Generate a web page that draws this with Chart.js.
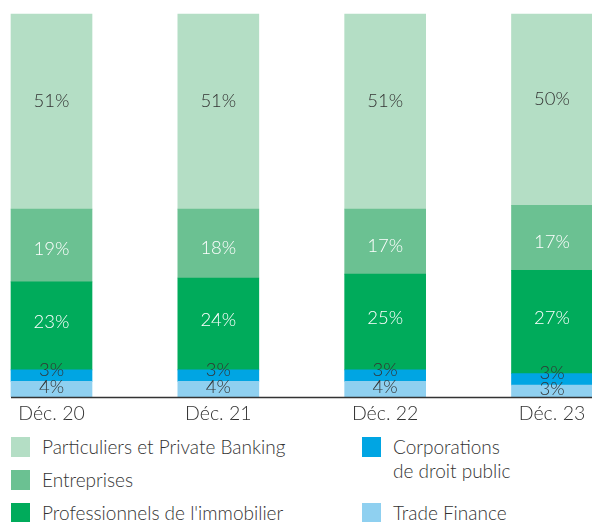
<!DOCTYPE html>
<html>
<head>
<meta charset="utf-8">
<script src="https://cdn.jsdelivr.net/npm/chart.js@4"></script>
<style>
  body { margin: 0; background: #fff; }
  #wrap { position: relative; width: 592px; height: 522px; overflow: hidden; font-family: Lato, sans-serif; font-weight: 300; color: #333; }
  #chart { position: absolute; left: 0; top: 0; }
  .leg { position: absolute; font-size: 19px; line-height: 24px; white-space: pre-line; }
  .leg i { position: absolute; left: -31px; top: 2px; width: 19px; height: 20px; }
</style>
</head>
<body>
<div id="wrap">
  <canvas id="chart" width="592" height="432"></canvas>
  <div id="legend"></div>
</div>
<script>
const labels = ["Déc. 20", "Déc. 21", "Déc. 22", "Déc. 23"];

const tradeFinance = [4, 4, 4, 3];
const corporations = [3, 3, 3, 3];
const professionnels = [23, 24, 25, 27];
const entreprises = [19, 18, 17, 17];
const particuliers = [51, 51, 51, 50];

const datasets = [
    { label: "Trade Finance", data: tradeFinance, backgroundColor: "#8fd0f0", textColor: "#333", dy: -2 },
    { label: "Corporations\nde droit public", data: corporations, backgroundColor: "#00a5e3", textColor: "#333", dy: -6 },
    { label: "Professionnels de l'immobilier", data: professionnels, backgroundColor: "#00ab5b", textColor: "#fff", dy: -4 },
    { label: "Entreprises", data: entreprises, backgroundColor: "#6bc192", textColor: "#fff", dy: 4 },
    { label: "Particuliers et Private Banking", data: particuliers, backgroundColor: "#b4dec5", textColor: "#333", dy: -11 },
];
datasets.forEach((d) => {
    d.barThickness = 81;
    d.clip = false;
    d.borderWidth = 0;
});

// percentage text in the middle of each segment
const segmentLabels = {
    id: "segmentLabels",
    afterDatasetsDraw(chart) {
        const ctx = chart.ctx;
        ctx.save();
        ctx.font = "300 18.5px Lato";
        ctx.textAlign = "center";
        ctx.textBaseline = "middle";
        chart.data.datasets.forEach((ds, i) => {
            chart.getDatasetMeta(i).data.forEach((bar, j) => {
                ctx.fillStyle = ds.textColor;
                ctx.fillText(ds.data[j] + "%", bar.x, (bar.y + bar.base) / 2 + ds.dy);
            });
        });
        ctx.restore();
    },
};

// baseline under the bars, running the full width
const baseLine = {
    id: "baseLine",
    afterDatasetsDraw(chart) {
        const ctx = chart.ctx;
        const y = Math.round(chart.chartArea.bottom) + 0.5;
        ctx.save();
        ctx.strokeStyle = "#333";
        ctx.lineWidth = 1.3;
        ctx.beginPath();
        ctx.moveTo(11, y);
        ctx.lineTo(592, y);
        ctx.stroke();
        ctx.restore();
    },
};

new Chart(document.getElementById("chart"), {
    type: "bar",
    data: { labels, datasets },
    options: {
        responsive: false,
        animation: false,
        layout: { padding: { left: 51.5, right: 40, top: 14, bottom: 2 } },
        scales: {
            x: {
                stacked: true,
                offset: false,
                grid: { display: false, drawTicks: false },
                border: { display: false },
                ticks: { color: "#333", padding: 5, font: { family: "Lato", size: 19.5, weight: 300 } },
            },
            y: { stacked: true, min: 0, max: 100, display: false },
        },
        plugins: {
            legend: { display: false },
            tooltip: { enabled: false },
        },
    },
    plugins: [segmentLabels, baseLine],
});

// legend, two columns
const legendPos = [
    { ds: 4, left: 42, top: 435 },
    { ds: 3, left: 42, top: 468 },
    { ds: 2, left: 42, top: 501 },
    { ds: 1, left: 393, top: 435 },
    { ds: 0, left: 393, top: 501 },
];
const legend = document.getElementById("legend");
legendPos.forEach((p) => {
    const ds = datasets[p.ds];
    const el = document.createElement("div");
    el.className = "leg";
    el.style.left = p.left + "px";
    el.style.top = p.top + "px";
    el.innerHTML = '<i style="background:' + ds.backgroundColor + '"></i>';
    el.appendChild(document.createTextNode(ds.label));
    legend.appendChild(el);
});
</script>
</body>
</html>
